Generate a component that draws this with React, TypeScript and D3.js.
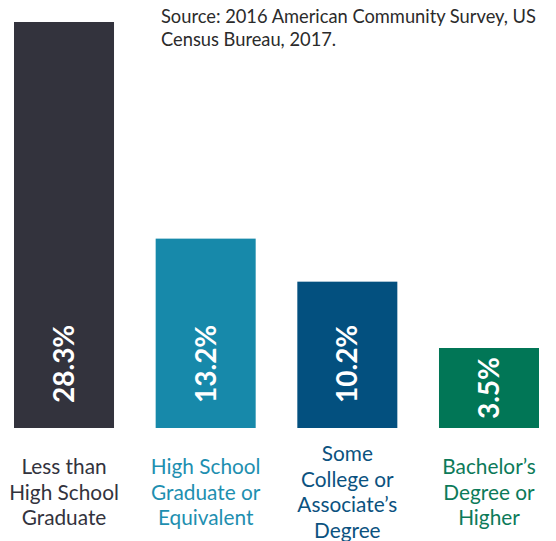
import React from "react";
import * as d3 from "d3";

const categoryLines: string[][] = [
  ["Less than", "High School", "Graduate"],
  ["High School", "Graduate or", "Equivalent"],
  ["Some", "College or", "Associate\u2019s", "Degree"],
  ["Bachelor\u2019s", "Degree or", "Higher"],
];
const values: number[] = [28.3, 13.2, 10.2, 3.5];
const valueLabels: string[] = ["28.3%", "13.2%", "10.2%", "3.5%"];
const barColors: string[] = ["#33333d", "#1789aa", "#03507f", "#017656"];
const labelColors: string[] = ["#33333d", "#1e8fb0", "#0b527f", "#0c7a59"];
const sourceLines: string[] = [
  "Source: 2016 American Community Survey, US",
  "Census Bureau, 2017.",
];

const W = 556;
const H = 541;
const FONT = "Lato, 'Open Sans', sans-serif";

export default function App() {
  const x = d3
    .scaleBand<number>()
    .domain(values.map((_, i) => i))
    .range([14, 539])
    .paddingInner(0.294)
    .paddingOuter(0);
  const baseY = 428;
  const y = d3.scaleLinear().domain([0, 28.3]).range([baseY, 22]);
  const valueFont = 28;
  const pad = 25;
  const minBar = 80;
  const lineH = 25.8;
  const labelMid = 499.5;

  return (
    <svg
      width={W}
      height={H}
      style={{ position: "absolute", left: 0, top: 0, display: "block" }}
      fontFamily={FONT}
    >
      <rect x={0} y={0} width={W} height={H} fill="#ffffff" />
      {values.map((v, i) => {
        const bx = x(i) as number;
        const bw = x.bandwidth();
        const h = Math.max(baseY - y(v), minBar);
        const top = baseY - h;
        const cx = bx + bw / 2;
        const estLen = valueLabels[i].length * valueFont * 0.57;
        const fits = h > estLen + 2 * pad;
        const ty = fits ? baseY - pad : top + h / 2;
        return (
          <g key={i}>
            <rect x={bx} y={top} width={bw} height={h} fill={barColors[i]} />
            <text
              transform={`translate(${cx},${ty}) rotate(-90)`}
              textAnchor={fits ? "start" : "middle"}
              dy="0.36em"
              fill="#ffffff"
              fontWeight={700}
              fontSize={valueFont}
            >
              {valueLabels[i]}
            </text>
            <text
              textAnchor="middle"
              fill={labelColors[i]}
              fontSize={20.8}
            >
              {categoryLines[i].map((ln, j) => (
                <tspan
                  key={j}
                  x={cx}
                  y={labelMid - ((categoryLines[i].length - 1) / 2) * lineH + j * lineH}
                >
                  {ln}
                </tspan>
              ))}
            </text>
          </g>
        );
      })}
      <text fill="#2b2b2b" fontSize={18.3}>
        {sourceLines.map((ln, j) => (
          <tspan key={j} x={161} y={23 + j * 22.5}>
            {ln}
          </tspan>
        ))}
      </text>
    </svg>
  );
}
